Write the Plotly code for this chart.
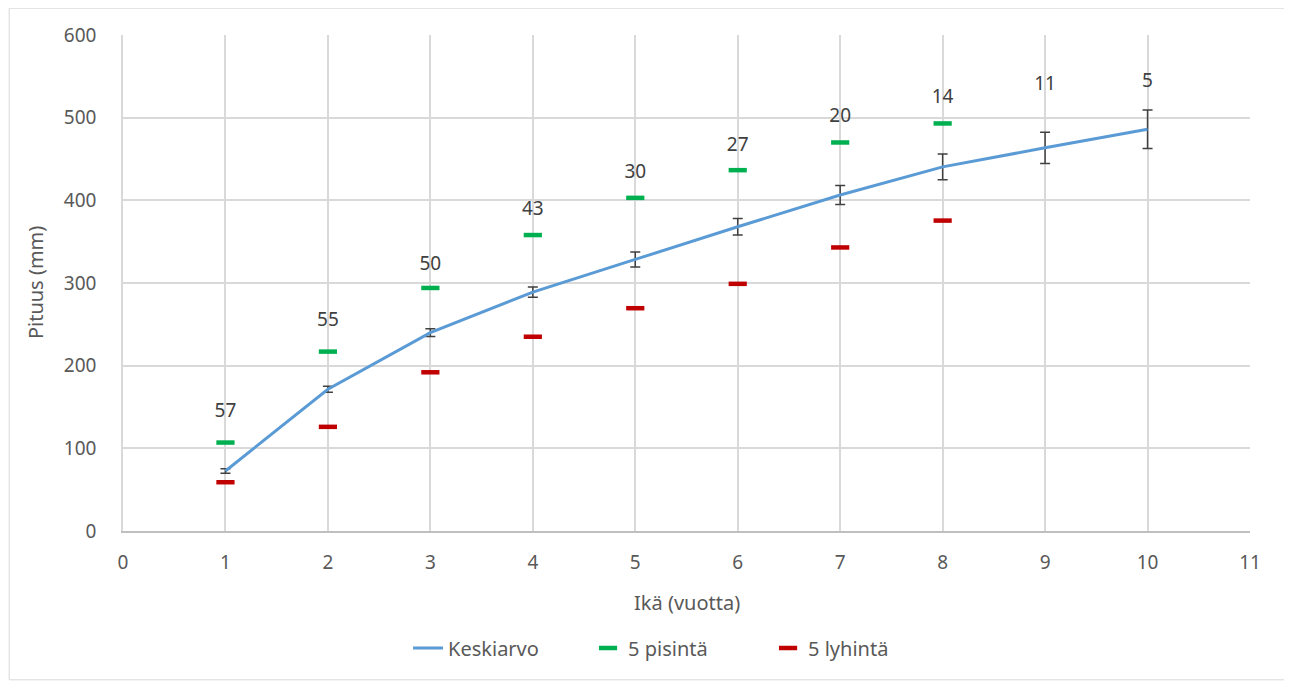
import plotly.graph_objects as go

# ---- data ----
ages = [1, 2, 3, 4, 5, 6, 7, 8, 9, 10]
mean_len = [72.6, 171.5, 240, 289, 328.5, 368, 406.5, 440.5, 463.5, 486]
mean_err = [2.8, 3.6, 4.6, 6.2, 9, 10, 11.5, 15.5, 19, 23.4]
ages_top = [1, 2, 3, 4, 5, 6, 7, 8]
top5 = [107, 217, 294, 358, 403, 436.5, 470, 493]
bottom5 = [59, 126, 192, 235, 269.5, 299, 343, 375.5]
n_counts = ["57", "55", "50", "43", "30", "27", "20", "14", "11", "5"]
n_label_y = [144, 254, 321, 388, 433, 465, 501, 523, 539, 543]

FONT = "Noto Sans"
TXT = "#595959"

fig = go.Figure()

fig.add_trace(go.Scatter(
    x=ages, y=mean_len, mode="lines", name="Keskiarvo",
    line=dict(color="#5B9BD5", width=3),
    error_y=dict(type="data", array=mean_err, visible=True,
                 color="#404040", thickness=1.5, width=5),
))
fig.add_trace(go.Scatter(
    x=ages_top, y=top5, mode="markers", name="5 pisintä",
    marker=dict(symbol="line-ew", size=13,
                line=dict(color="#00B050", width=4.5)),
))
fig.add_trace(go.Scatter(
    x=ages_top, y=bottom5, mode="markers", name="5 lyhintä",
    marker=dict(symbol="line-ew", size=13,
                line=dict(color="#C00000", width=4.5)),
))
fig.add_trace(go.Scatter(
    x=ages, y=n_label_y, mode="text", text=n_counts,
    textposition="middle center", showlegend=False,
    textfont=dict(family=FONT, size=19, color="#404040"),
))

fig.update_layout(
    width=1284, height=674,
    margin=dict(l=115, r=42, t=27, b=151),
    paper_bgcolor="white", plot_bgcolor="white",
    font=dict(family=FONT, size=18, color=TXT),
    showlegend=True,
    legend=dict(orientation="h", x=0.4925, xanchor="center",
                y=-0.236, yanchor="middle",
                font=dict(family=FONT, size=20, color=TXT),
                entrywidth=135, entrywidthmode="pixels",
                tracegroupgap=0),
    xaxis=dict(range=[0, 11], dtick=1, tick0=0,
               showgrid=True, gridcolor="#D9D9D9", gridwidth=1.6,
               zeroline=False, showline=True, linecolor="#BFBFBF", linewidth=1.5,
               ticks="", ticklabelstandoff=13,
               tickfont=dict(family=FONT, size=19, color=TXT)),
    yaxis=dict(range=[0, 600], dtick=100, tick0=0,
               showgrid=True, gridcolor="#D9D9D9", gridwidth=1.6,
               zeroline=False, showline=True, linecolor="#D9D9D9", linewidth=1.5,
               ticks="", ticklabelstandoff=21,
               tickfont=dict(family=FONT, size=19, color=TXT)),
    annotations=[
        dict(text="Pituus (mm)", xref="paper", yref="paper",
             x=-0.078, y=0.5, textangle=-90, showarrow=False,
             xanchor="center", yanchor="middle",
             font=dict(family=FONT, size=20, color=TXT)),
        dict(text="Ikä (vuotta)", xref="paper", yref="paper",
             x=0.5, y=-0.145, showarrow=False,
             xanchor="center", yanchor="middle",
             font=dict(family=FONT, size=20, color=TXT)),
    ],
    shapes=[
        dict(type="rect", xref="paper", yref="paper",
             x0=-0.101, x1=1.0364, y0=-0.30, y1=1.054,
             line=dict(color="#D9D9D9", width=1), layer="below"),
    ],
)

fig.write_html("out.html")
